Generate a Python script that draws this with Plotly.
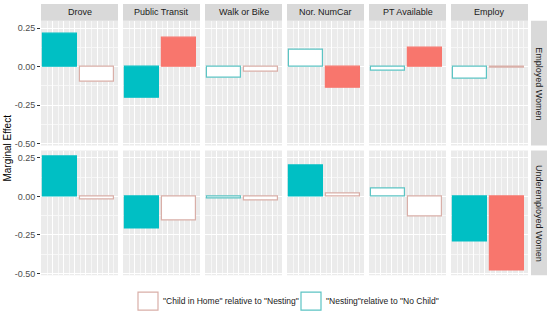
import plotly.graph_objects as go

# ---- data ----
measures = ["Drove", "Public Transit", "Walk or Bike", "Nor. NumCar", "PT Available", "Employ"]
groups = ["Employed Women", "Underemployed Women"]
series = ['"Nesting"relative to "No Child"', '"Child in Home" relative to "Nesting"']

nesting_employed = [0.21, -0.20, -0.07, 0.11, -0.03, -0.08]
child_employed = [-0.10, 0.19, -0.035, -0.14, 0.12, -0.01]
nesting_underemp = [0.255, -0.21, -0.015, 0.20, 0.05, -0.29]
child_underemp = [-0.02, -0.155, -0.03, 0.017, -0.13, -0.48]

# significant (filled) or not (outline only)
sig_nesting_employed = [True, True, False, False, False, False]
sig_child_employed = [False, True, False, True, True, False]
sig_nesting_underemp = [True, True, False, True, False, True]
sig_child_underemp = [False, False, False, False, False, True]

y_ticks = [0.25, 0.0, -0.25, -0.50]
y_tick_labels = ["0.25", "0.00", "-0.25", "-0.50"]

# ---- styling ----
W, H = 550, 317
TEAL, SALMON = "#00BFC4", "#F8766D"
TEAL_LINE, SALMON_LINE = "#5CC4C4", "#D9AFA8"
PANEL_BG, STRIP_BG = "#EBEBEB", "#D9D9D9"
FONT = "Liberation Sans, Arial, sans-serif"

def fx(px):
    return px / W

def fy(py):
    return 1 - py / H

col_left = [41 + i * 82.0 for i in range(6)]
col_w = 77
row_top = [21, 152]
row_h = 126

values = [[nesting_employed, child_employed], [nesting_underemp, child_underemp]]
sigs = [[sig_nesting_employed, sig_child_employed], [sig_nesting_underemp, sig_child_underemp]]

fig = go.Figure()
layout = {}
shapes = []
annotations = []

for r in range(2):
    for c in range(6):
        k = r * 6 + c + 1
        xa = "x" if k == 1 else f"x{k}"
        ya = "y" if k == 1 else f"y{k}"
        vals = [values[r][0][c], values[r][1][c]]
        sg = [sigs[r][0][c], sigs[r][1][c]]
        fills = [(TEAL if sg[0] else "white"), (SALMON if sg[1] else "white")]
        lines = [(TEAL if sg[0] else TEAL_LINE), (SALMON if sg[1] else SALMON_LINE)]
        fig.add_trace(go.Bar(
            x=[0, 1], y=vals, width=0.92,
            marker=dict(color=fills, line=dict(color=lines, width=1.2)),
            xaxis=xa, yaxis=ya, showlegend=False, hoverinfo="y",
        ))
        xl = col_left[c]
        yt = row_top[r]
        layout["xaxis" if k == 1 else f"xaxis{k}"] = dict(
            domain=[fx(xl), fx(xl + col_w)], anchor=ya,
            range=[-0.515, 1.568], showticklabels=False, ticks="",
            tick0=-0.5, dtick=0.3, showgrid=True, gridcolor="white", gridwidth=1,
            minor=dict(tick0=-0.35, dtick=0.3, showgrid=True, gridcolor="#F7F7F7", gridwidth=0.8),
            zeroline=False, showline=False, fixedrange=True,
        )
        layout["yaxis" if k == 1 else f"yaxis{k}"] = dict(
            domain=[fy(yt + row_h), fy(yt)], anchor=xa,
            range=[-0.512, 0.297], tickvals=y_ticks, ticktext=y_tick_labels,
            showticklabels=(c == 0), ticks=("outside" if c == 0 else ""),
            ticklen=3, tickcolor="#333333", tickwidth=1,
            tickfont=dict(size=9, color="#4D4D4D", family=FONT),
            showgrid=True, gridcolor="white", gridwidth=1.1,
            minor=dict(tickvals=[0.125, -0.125, -0.375], showgrid=True, gridcolor="#F7F7F7", gridwidth=0.8),
            zeroline=False, showline=False, fixedrange=True,
        )
        shapes.append(dict(type="rect", xref="paper", yref="paper",
                           x0=fx(xl), x1=fx(xl + col_w), y0=fy(yt + row_h), y1=fy(yt),
                           fillcolor=PANEL_BG, line=dict(width=0), layer="below"))

# top strips
for c in range(6):
    xl = col_left[c]
    shapes.append(dict(type="rect", xref="paper", yref="paper",
                       x0=fx(xl), x1=fx(xl + col_w), y0=fy(21), y1=fy(4),
                       fillcolor=STRIP_BG, line=dict(width=0), layer="below"))
    annotations.append(dict(text=measures[c], xref="paper", yref="paper",
                            x=fx(xl + col_w / 2), y=fy(12.5), xanchor="center", yanchor="middle",
                            showarrow=False, font=dict(size=9, color="#1A1A1A", family=FONT)))
# right strips
for r in range(2):
    yt = row_top[r]
    shapes.append(dict(type="rect", xref="paper", yref="paper",
                       x0=fx(531), x1=fx(547), y0=fy(yt + row_h), y1=fy(yt),
                       fillcolor=STRIP_BG, line=dict(width=0), layer="below"))
    annotations.append(dict(text=groups[r], xref="paper", yref="paper",
                            x=fx(539), y=fy(yt + row_h / 2), xanchor="center", yanchor="middle",
                            showarrow=False, textangle=90,
                            font=dict(size=9, color="#1A1A1A", family=FONT)))

# y-axis title
annotations.append(dict(text="Marginal Effect", xref="paper", yref="paper",
                        x=fx(8), y=fy(150), xanchor="center", yanchor="middle",
                        showarrow=False, textangle=-90,
                        font=dict(size=10, color="#000000", family=FONT)))

# legend (manual keys)
legend_items = [(series[1], SALMON_LINE, 138), (series[0], TEAL_LINE, 301)]
for label, col, xk in legend_items:
    shapes.append(dict(type="rect", xref="paper", yref="paper",
                       x0=fx(xk), x1=fx(xk + 20), y0=fy(313), y1=fy(295),
                       fillcolor="white", line=dict(color=col, width=1.2)))
    annotations.append(dict(text=label, xref="paper", yref="paper",
                            x=fx(xk + 23), y=fy(304), xanchor="left", yanchor="middle",
                            showarrow=False, font=dict(size=8.5, color="#1A1A1A", family=FONT)))

fig.update_layout(
    width=W, height=H, margin=dict(l=0, r=0, t=0, b=0),
    paper_bgcolor="white", plot_bgcolor="rgba(0,0,0,0)",
    shapes=shapes, annotations=annotations, bargap=0, showlegend=False,
    **layout,
)
fig.write_html("out.html", config={"displayModeBar": False},
               post_script="document.body.style.margin='0';document.body.style.overflow='hidden';")
